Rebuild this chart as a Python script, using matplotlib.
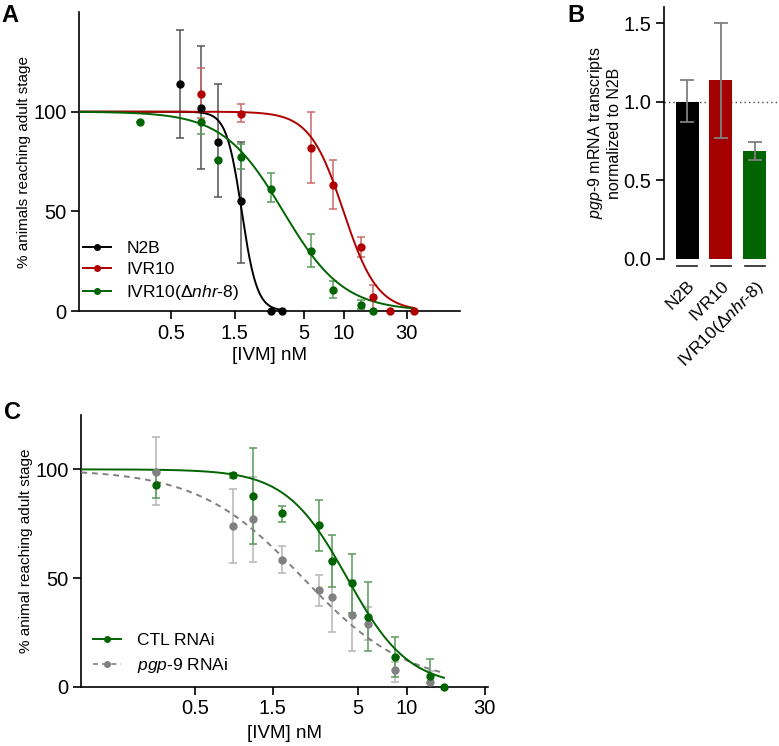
import numpy as np
import matplotlib
matplotlib.use("Agg")
import matplotlib.pyplot as plt
from matplotlib.lines import Line2D
import matplotlib.transforms as mtransforms

plt.rcParams['font.family'] = ['Liberation Sans', 'DejaVu Sans']
plt.rcParams['mathtext.fontset'] = 'custom'
plt.rcParams['mathtext.rm'] = 'Liberation Sans'
plt.rcParams['mathtext.it'] = 'Liberation Sans:italic'
plt.rcParams['mathtext.bf'] = 'Liberation Sans:bold'

# ---------------- Panel A data ----------------
n2b_x = [0.58, 0.84, 1.13, 1.67, 2.85, 3.43]
n2b_y = [114, 102, 85, 55, 0, 0]
n2b_lo = [87, 71, 57, 24, 0, 0]
n2b_hi = [141, 133, 114, 85, 0, 0]

ivr_x = [0.84, 1.67, 5.65, 8.4, 13.5, 16.7, 22.4, 34]
ivr_y = [109, 99, 82, 63, 32, 7, 0, 0]
ivr_lo = [97, 95, 64, 51, 27, 0, 0, 0]
ivr_hi = [122, 104, 100, 76, 37, 13, 0, 0]

nhr_x = [0.29, 0.84, 1.13, 1.67, 2.85, 5.65, 8.4, 13.5, 16.7]
nhr_y = [95, 95, 76, 77.5, 61, 30, 10.5, 3, 0]
nhr_lo = [95, 89, 76, 71, 54.5, 22, 6.5, 1, 0]
nhr_hi = [95, 100, 76, 84, 69, 38.5, 15, 5.5, 0]

# fitted curve parameters (IC50, Hill slope, x-range)
n2b_fit = (1.70, 7.5, 0.1, 3.43)
ivr_fit = (10.0, 3.4, 0.1, 34)
nhr_fit = (3.5, 1.9, 0.1, 34)

# ---------------- Panel B data ----------------
b_cats = ['N2B', 'IVR10', 'IVR10($\\mathit{\\Delta nhr}$-$\\mathit{8}$)']
b_vals = [1.0, 1.14, 0.686]
b_lo = [0.873, 0.77, 0.627]
b_hi = [1.138, 1.50, 0.745]

# ---------------- Panel C data ----------------
ctl_x = [0.286, 0.85, 1.14, 1.70, 2.88, 3.46, 4.57, 5.75, 8.5, 13.8, 16.9]
ctl_y = [93, 97.2, 87.7, 79.7, 74.3, 58, 47.5, 32.2, 13.7, 5, 0]
ctl_lo = [86.6, 96.2, 65.7, 76, 62.6, 46, 33.7, 16.6, 4.3, 1.7, 0]
ctl_hi = [99, 98.2, 109.8, 83, 85.8, 70, 61, 48, 23, 12.6, 0]

pgp_x = [0.286, 0.85, 1.14, 1.70, 2.88, 3.46, 4.57, 5.75, 8.5, 13.8]
pgp_y = [99, 73.8, 77, 58.5, 44.3, 41.2, 33, 29, 7.5, 2.3]
pgp_lo = [83.7, 56.8, 57.5, 52.5, 37.2, 25, 16.5, 21.5, 2, 0]
pgp_hi = [115, 91, 96.6, 64.6, 51.2, 57.7, 49, 36.6, 11.5, 7]

ctl_fit = (4.3, 2.3, 0.1, 16.9)
pgp_fit = (2.3, 1.35, 0.1, 16.9)

BLACK = '#000000'
RED = '#a50000'
GREEN = '#006400'
GRAY = '#808080'
TICK_FS = 14.5

fig = plt.figure(figsize=(7.79, 7.46), dpi=100)


def hill(params):
    ic50, h, x0, x1 = params
    xs = np.logspace(np.log10(x0), np.log10(x1), 400)
    return xs, 100.0 / (1.0 + (xs / ic50) ** h)


def style_axes(ax):
    for s in ['top', 'right']:
        ax.spines[s].set_visible(False)
    for s in ['left', 'bottom']:
        ax.spines[s].set_linewidth(1.2)
    ax.tick_params(axis='both', width=1.2, length=6, labelsize=TICK_FS, pad=3)


def dose_series(ax, x, y, lo, hi, fit, color, ecolor, ls='-'):
    x = np.array(x); y = np.array(y)
    yerr = np.vstack([y - np.array(lo), np.array(hi) - y])
    ax.errorbar(x, y, yerr=yerr, fmt='none', ecolor=ecolor, elinewidth=1.1,
                capsize=3, capthick=1.1, zorder=2, clip_on=False)
    xs, ys = hill(fit)
    ax.plot(xs, ys, color=color, lw=1.4, ls=ls, zorder=3)
    ax.plot(x, y, 'o', color=color, ms=5, zorder=4, clip_on=False)


def log_xaxis(ax, xlim):
    ax.set_xscale('log')
    ax.set_xlim(*xlim)
    ax.set_xticks([0.5, 1.5, 5, 10, 30])
    ax.set_xticklabels(['0.5', '1.5', '5', '10', '30'])
    ax.xaxis.set_minor_locator(matplotlib.ticker.NullLocator())


# ================= Panel A =================
axA = fig.add_axes([0.1014, 0.5831, 0.4891, 0.4008])
style_axes(axA)
dose_series(axA, n2b_x, n2b_y, n2b_lo, n2b_hi, n2b_fit, BLACK, '#555555')
dose_series(axA, ivr_x, ivr_y, ivr_lo, ivr_hi, ivr_fit, '#b00000', '#cc6a6a')
dose_series(axA, nhr_x, nhr_y, nhr_lo, nhr_hi, nhr_fit, GREEN, '#5a9a5a')
log_xaxis(axA, (0.1, 76))
axA.set_ylim(0, 150)
axA.set_yticks([0, 50, 100])
axA.set_xlabel('[IVM] nM', fontsize=13.5, labelpad=3)
axA.set_ylabel('% animals reaching adult stage', fontsize=11)
axA.yaxis.set_label_coords(-0.126, 0.5)
handles = [Line2D([], [], color=BLACK, marker='o', ms=4, lw=1.4),
           Line2D([], [], color='#b00000', marker='o', ms=4, lw=1.4),
           Line2D([], [], color=GREEN, marker='o', ms=4, lw=1.4)]
axA.legend(handles, ['N2B', 'IVR10', 'IVR10($\\mathit{\\Delta nhr}$-$\\mathit{8}$)'],
           loc='lower left', bbox_to_anchor=(0.0105, 0.03), frameon=False,
           borderpad=0, borderaxespad=0,
           fontsize=12.5, handlelength=1.6, handletextpad=0.9, labelspacing=0.35)
fig.text(0.002, 0.995, 'A', fontsize=17, fontweight='bold', va='top', ha='left')

# ================= Panel B =================
axB = fig.add_axes([0.8524, 0.6532, 0.1466, 0.3368])
for s in ['top', 'right', 'bottom']:
    axB.spines[s].set_visible(False)
axB.spines['left'].set_linewidth(1.2)
axB.tick_params(axis='y', width=1.2, length=6, labelsize=TICK_FS, pad=3)
pos = np.arange(len(b_vals))
vals = np.array(b_vals)
axB.bar(pos, vals, width=0.68, color=[BLACK, RED, GREEN], zorder=2)
axB.errorbar(pos, vals, yerr=np.vstack([vals - np.array(b_lo), np.array(b_hi) - vals]),
             fmt='none', ecolor=GRAY, elinewidth=1.3, capsize=5, capthick=1.3, zorder=3)
axB.axhline(1.0, color='#444444', lw=1.0, ls=(0, (1, 2.2)), zorder=1)
axB.set_xlim(-0.68, 2.69)
axB.set_ylim(0, 1.6)
axB.set_yticks([0, 0.5, 1.0, 1.5])
axB.set_yticklabels(['0.0', '0.5', '1.0', '1.5'])
trans = mtransforms.blended_transform_factory(axB.transData, axB.transAxes)
for p in pos:
    axB.plot([p - 0.3, p + 0.3], [-0.029, -0.029], color='#222222', lw=1.2,
             transform=trans, clip_on=False)
axB.set_xticks(pos)
axB.set_xticklabels(b_cats, rotation=45, ha='right', rotation_mode='anchor', fontsize=12.5)
axB.tick_params(axis='x', length=0, pad=14)
axB.set_ylabel('$\\mathit{pgp}$-$\\mathit{9}$ mRNA transcripts\nnormalized to N2B',
               fontsize=11.5, linespacing=1.15)
axB.yaxis.set_label_coords(-0.37, 0.5)
fig.text(0.728, 0.995, 'B', fontsize=17, fontweight='bold', va='top', ha='left')

# ================= Panel C =================
axC = fig.add_axes([0.1044, 0.0795, 0.5220, 0.3642])
style_axes(axC)
dose_series(axC, pgp_x, pgp_y, pgp_lo, pgp_hi, pgp_fit, GRAY, '#b5b5b5', ls=(0, (3, 2.5)))
dose_series(axC, ctl_x, ctl_y, ctl_lo, ctl_hi, ctl_fit, GREEN, '#5a9a5a')
log_xaxis(axC, (0.1, 31.5))
axC.set_ylim(0, 125)
axC.set_yticks([0, 50, 100])
axC.set_xlabel('[IVM] nM', fontsize=13.5, labelpad=5)
axC.set_ylabel('% animal reaching adult stage', fontsize=11)
axC.yaxis.set_label_coords(-0.118, 0.5)
handlesC = [Line2D([], [], color=GREEN, marker='o', ms=4, lw=1.4),
            Line2D([], [], color=GRAY, marker='o', ms=4, lw=1.2, ls=(0, (3, 2.5)))]
axC.legend(handlesC, ['CTL RNAi', '$\\mathit{pgp}$-$\\mathit{9}$ RNAi'],
           loc='lower left', bbox_to_anchor=(0.029, 0.044), frameon=False,
           borderpad=0, borderaxespad=0,
           fontsize=12.5, handlelength=1.6, handletextpad=0.9, labelspacing=0.45)
fig.text(0.005, 0.462, 'C', fontsize=17, fontweight='bold', va='top', ha='left')

fig.savefig('out.png', dpi=100)
